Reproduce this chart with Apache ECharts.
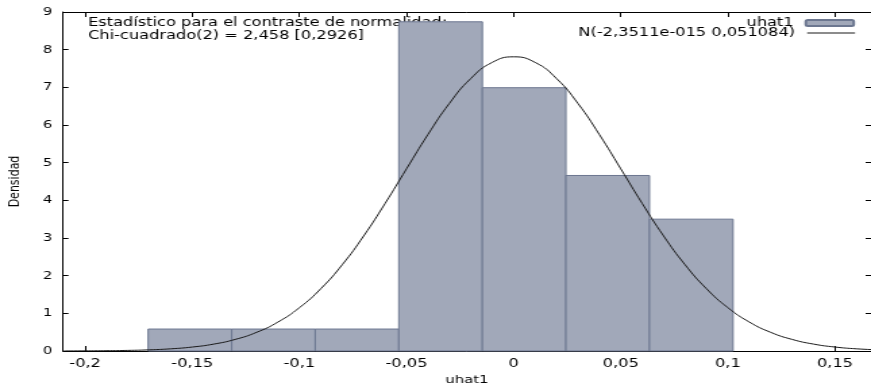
<!DOCTYPE html>
<html>
<head>
<meta charset="utf-8">
<script src="https://cdn.jsdelivr.net/npm/echarts@6/dist/echarts.min.js"></script>
<style>
  html, body { margin: 0; padding: 0; background: #fff; overflow: hidden; }
  /* the original picture is stretched sideways, so the chart is drawn narrow and widened */
  #hist { width: 645px; height: 383px; transform: scaleX(1.3504); transform-origin: 0 0; }
</style>
</head>
<body>
<div id="hist"></div>
<script>
// Histogram bins (left/right edges) and densities
var binStart = [-0.1706, -0.1316, -0.0926, -0.0536, -0.0146, 0.0244, 0.0634];
var binEnd = [-0.1316, -0.0926, -0.0536, -0.0146, 0.0244, 0.0634, 0.1024];
var density = [0.583, 0.583, 0.583, 8.74, 6.99, 4.66, 3.50];

// Normal curve
var curveX = [-0.21, -0.20, -0.19, -0.18, -0.17, -0.16, -0.15, -0.14, -0.13, -0.12,
    -0.11, -0.10, -0.09, -0.08, -0.07, -0.06, -0.05, -0.04, -0.03, -0.02, -0.01, 0,
    0.01, 0.02, 0.03, 0.04, 0.05, 0.06, 0.07, 0.08, 0.09, 0.10, 0.11, 0.12, 0.13,
    0.14, 0.15, 0.16, 0.17];
var curveY = [0.002, 0.004, 0.008, 0.016, 0.031, 0.058, 0.105, 0.183, 0.307, 0.495,
    0.769, 1.150, 1.654, 2.291, 3.054, 3.918, 4.837, 5.747, 6.573, 7.234, 7.662, 7.81,
    7.662, 7.234, 6.573, 5.747, 4.837, 3.918, 3.054, 2.291, 1.654, 1.150, 0.769, 0.495, 0.307,
    0.183, 0.105, 0.058, 0.031];

// Tick labels
var xTicks = [-0.2, -0.15, -0.1, -0.05, 0, 0.05, 0.1, 0.15];

var histName = 'uhat1';
var curveName = 'N(-2,3511e-015 0,051084)';

var chart = echarts.init(document.getElementById('hist'));

var fontFam = '"DejaVu Sans", Verdana, sans-serif';
var comma = function (v) { return String(v).replace('.', ','); };

var barData = binStart.map(function (s, i) { return [s, binEnd[i], density[i]]; });
var lineData = curveX.map(function (x, i) { return [x, curveY[i]]; });

chart.setOption({
    animation: false,
    textStyle: { fontFamily: fontFam },
    grid: { left: 46.7, right: 0, top: 12, bottom: 32, containLabel: false, outerBoundsMode: 'none' },
    legend: [{
        data: [histName],
        right: 11.8, top: 17, padding: 0,
        align: 'right',
        itemWidth: 35.5, itemHeight: 6,
        textStyle: { fontSize: 12, color: '#000', padding: [0, 4, 0, 0] }
    }, {
        data: [curveName],
        right: 11.8, top: 27, padding: 0,
        align: 'right',
        icon: 'rect',
        itemWidth: 35.5, itemHeight: 1,
        textStyle: { fontSize: 12, color: '#000', padding: [0, 4, 0, 0] }
    }],
    xAxis: [{
        type: 'value',
        min: -0.2103, max: 0.1668,
        name: 'uhat1',
        nameLocation: 'middle',
        nameGap: 19,
        nameTextStyle: { fontSize: 11, color: '#000' },
        splitLine: { show: false },
        axisLine: { show: true, onZero: false, lineStyle: { color: '#000', width: 1 } },
        axisTick: { inside: true, length: 5, customValues: xTicks, lineStyle: { color: '#000' } },
        axisLabel: { customValues: xTicks, formatter: comma, color: '#000', fontSize: 12, margin: 7 }
    }, {
        type: 'value',
        position: 'top',
        min: -0.2103, max: 0.1668,
        splitLine: { show: false },
        axisLine: { show: true, onZero: false, lineStyle: { color: '#000', width: 1 } },
        axisTick: { inside: true, length: 5, customValues: xTicks, lineStyle: { color: '#000' } },
        axisLabel: { show: false }
    }],
    yAxis: [{
        type: 'value',
        min: 0, max: 9, interval: 1,
        name: 'Densidad',
        nameLocation: 'middle',
        nameGap: 30,
        nameTextStyle: { fontSize: 11, color: '#000' },
        splitLine: { show: false },
        axisLine: { show: true, onZero: false, lineStyle: { color: '#000', width: 1 } },
        axisTick: { inside: true, length: 4, lineStyle: { color: '#000' } },
        axisLabel: { color: '#000', fontSize: 11, margin: 8 }
    }, {
        type: 'value',
        position: 'right',
        min: 0, max: 9, interval: 1,
        splitLine: { show: false },
        axisLine: { show: false, onZero: false },
        axisTick: { show: true, inside: true, length: 4, lineStyle: { color: '#000' } },
        axisLabel: { show: false }
    }],
    graphic: [{
        type: 'text',
        left: 65.2, top: 16,
        style: {
            text: 'Estadístico para el contraste de normalidad:\nChi-cuadrado(2) = 2,458 [0,2926]',
            font: '12px ' + fontFam,
            fill: '#000',
            lineHeight: 13
        }
    }],
    series: [{
        name: histName,
        type: 'custom',
        xAxisIndex: 0, yAxisIndex: 0,
        itemStyle: { color: '#a1a8b9', borderColor: '#6c7790', borderWidth: 1 },
        renderItem: function (params, api) {
            var p0 = api.coord([api.value(0), api.value(2)]);
            var p1 = api.coord([api.value(1), 0]);
            return {
                type: 'rect',
                shape: { x: p0[0], y: p0[1], width: p1[0] - p0[0], height: p1[1] - p0[1] },
                style: { fill: '#a1a8b9', stroke: '#6c7790', lineWidth: 1 }
            };
        },
        encode: { x: [0, 1], y: 2 },
        data: barData
    }, {
        name: curveName,
        type: 'line',
        xAxisIndex: 0, yAxisIndex: 0,
        smooth: true,
        symbol: 'none',
        clip: true,
        lineStyle: { color: '#1a1a1a', width: 1 },
        itemStyle: { color: '#1a1a1a' },
        data: lineData
    }]
});
</script>
</body>
</html>
